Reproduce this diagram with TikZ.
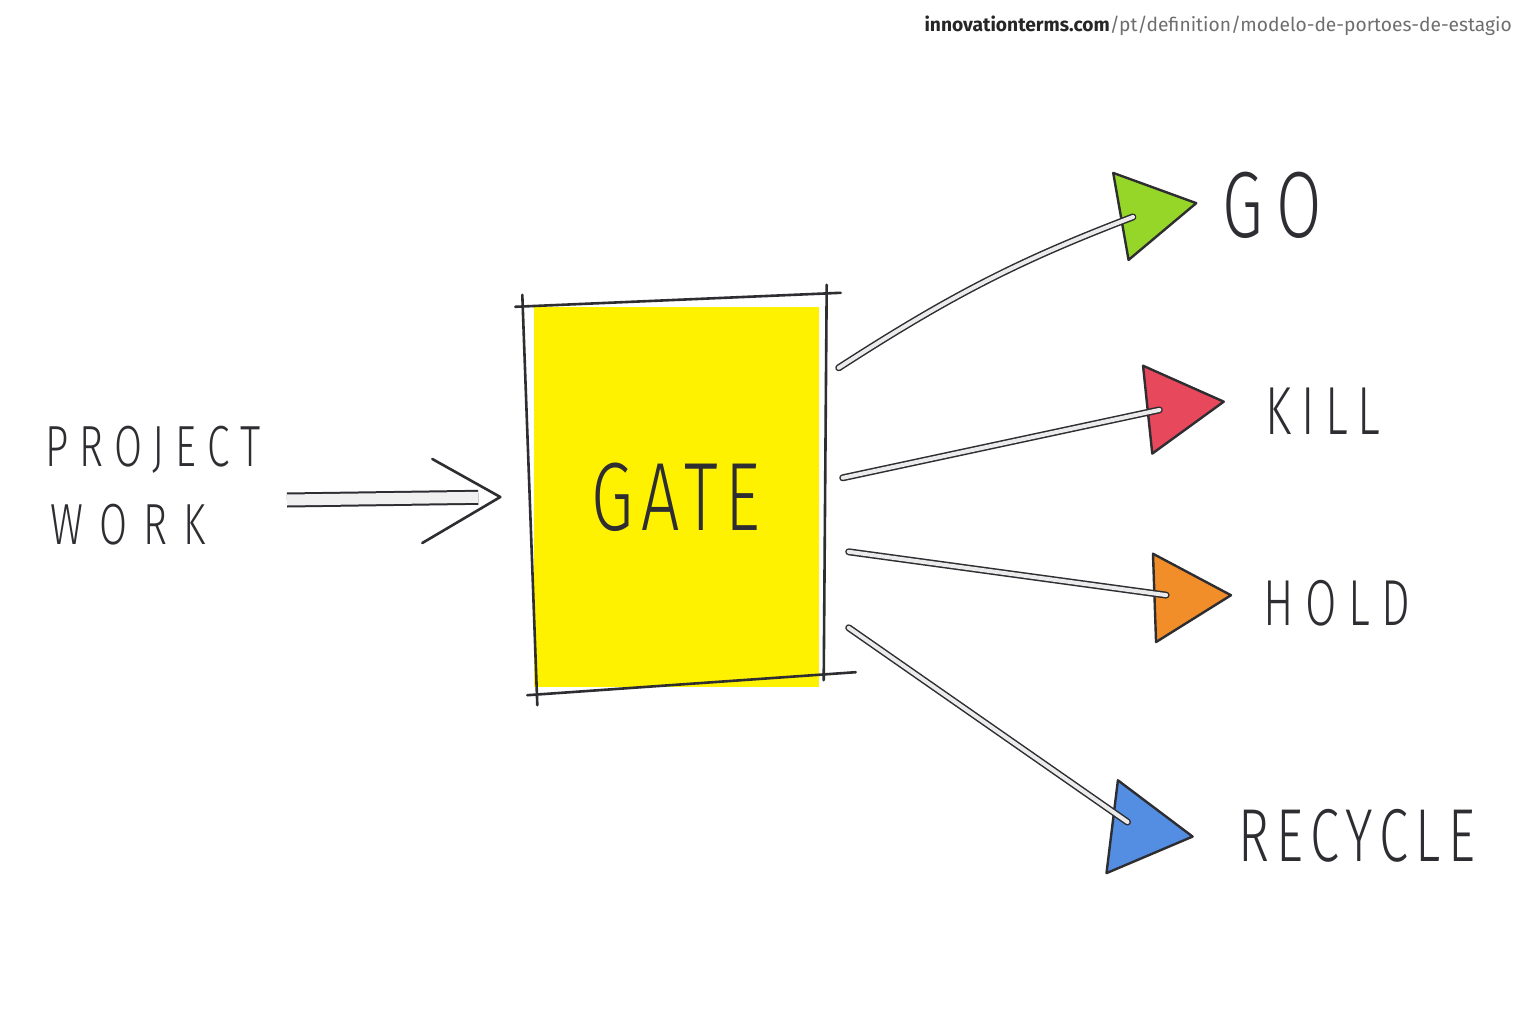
\documentclass[tikz,border=0pt]{standalone}
\usepackage{fontspec}
\setmainfont{Fira Sans}
\newfontfamily\handfont[FakeStretch=0.7,LetterSpace=15]{Fira Sans Light}
\usepackage{tikz}
\usetikzlibrary{%
  positioning
 ,calc
 ,shapes.geometric
}
\definecolor{ink}{RGB}{45,45,50}
\definecolor{gateyellow}{RGB}{255,242,0}
\definecolor{gogreen}{RGB}{150,214,40}
\definecolor{killred}{RGB}{232,72,92}
\definecolor{holdorange}{RGB}{242,142,42}
\definecolor{recblue}{RGB}{84,142,226}
\definecolor{urlgray}{RGB}{110,110,110}

\tikzstyle{sketch}=[x=1pt,y=-1pt,line cap=round,line join=round]
\tikzstyle{gatebox}=[rectangle,fill=gateyellow,minimum width=285pt,minimum height=380pt,inner sep=0pt]
\tikzstyle{pen}=[draw=ink,line width=2.6pt]
\tikzstyle{hand}=[text=ink,inner sep=0pt]
\tikzstyle{tri}=[regular polygon,regular polygon sides=3,draw=ink,line width=2.4pt,minimum size=102pt,inner sep=0pt]
\tikzstyle{outline}=[draw=ink,line width=1.5pt,double=black!8,double distance=4pt,shorten >=14pt]
\tikzstyle{inshaft}=[draw=ink,line width=2pt,line cap=butt,double=black!6,double distance=11pt,shorten >=22pt]

\begin{document}
\begin{tikzpicture}[sketch]
  \useasboundingbox[fill=white] (0,0) rectangle (1536,1024);
% header
  \node[anchor=east,font=\fontsize{19.2}{21}\selectfont,inner sep=0pt] (url) at (1512,26)
    {\textbf{\textcolor{black!85}{innovationterms.com}}\textcolor{urlgray}{/pt/definition/modelo-de-portoes-de-estagio}};
% gate
  \node[gatebox,hand,font=\handfont\fontsize{97}{99}\selectfont\addfontfeature{LetterSpace=8}] (gate) at (676,497) {GATE};
  \draw[pen] ($(gate.north west)+(-18,0)$) -- ($(gate.north east)+(22,-14)$);
  \draw[pen] ($(gate.north west)+(-11,-12)$) -- ($(gate.south west)+(4,18)$);
  \draw[pen] ($(gate.north east)+(8,-22)$) -- ($(gate.south east)+(5,-7)$);
  \draw[pen] ($(gate.south west)+(-6,8)$) -- ($(gate.south east)+(37,-15)$);
% input
  \node[hand,anchor=west,font=\handfont\fontsize{58}{60}\selectfont\addfontfeature{LetterSpace=19}] (project) at (45,450) {PROJECT};
  \node[hand,anchor=west,font=\handfont\fontsize{58}{60}\selectfont\addfontfeature{LetterSpace=28}] (work) at (50,525) {WORK};
  \coordinate (ain) at (287,500);
  \coordinate[left=33pt of gate.west] (atip);
  \draw[inshaft] (ain) -- (atip);
  \draw[pen] ($(atip)+(-68,-38)$) -- (atip) -- ($(atip)+(-78,46)$);
% outcomes
  \node[tri,fill=gogreen,rotate=-80]    (tgo)   at (1146,212) {};
  \node[tri,fill=killred,rotate=-84]    (tkill) at (1173,407) {};
  \node[tri,fill=holdorange,rotate=-88] (thold) at (1180,597) {};
  \node[tri,fill=recblue,rotate=-97,minimum size=108pt] (trec) at (1139,830) {};
  \node[hand,anchor=west,font=\handfont\fontsize{94}{96}\selectfont] (go)      at (1222,205) {GO};
  \node[hand,anchor=west,font=\handfont\fontsize{68}{70}\selectfont] (kill)    at (1265,411) {KILL};
  \node[hand,anchor=west,font=\handfont\fontsize{65}{67}\selectfont\addfontfeature{LetterSpace=18}] (hold) at (1263,603) {HOLD};
  \node[hand,anchor=west,font=\handfont\fontsize{75}{77}\selectfont\addfontfeature{LetterSpace=10}] (recycle) at (1238,836) {RECYCLE};
%
  \coordinate (sgo)   at ($(gate.north east)+(20,61)$);
  \coordinate (skill) at ($(gate.north east)+(24,171)$);
  \coordinate (shold) at ($(gate.north east)+(30,245)$);
  \coordinate (srec)  at ($(gate.north east)+(30,321)$);
  \draw[outline] (sgo) to[bend left=6] (tgo.center);
  \draw[outline] (skill) -- (tkill.center);
  \draw[outline] (shold) -- (thold.center);
  \draw[outline] (srec) -- (trec.center);

\end{tikzpicture}
\end{document}
